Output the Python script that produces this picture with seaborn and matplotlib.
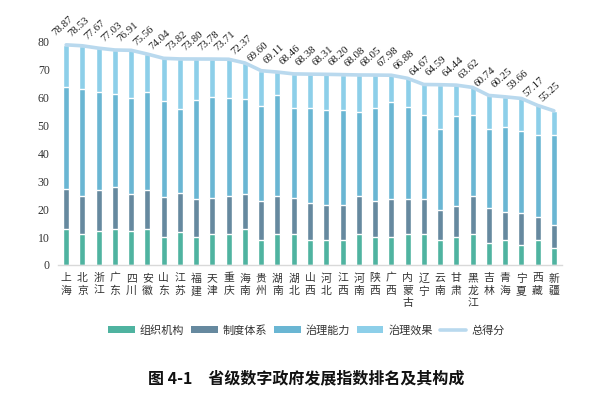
import numpy as np
import pandas as pd
import matplotlib
matplotlib.use("Agg")
import matplotlib.pyplot as plt
import seaborn as sns
from matplotlib.patches import Patch
from matplotlib.lines import Line2D

provinces = ["上海", "北京", "浙江", "广东", "四川", "安徽", "山东", "江苏", "福建", "天津",
             "重庆", "海南", "贵州", "湖南", "湖北", "山西", "河北", "江西", "河南", "陕西",
             "广西", "内蒙古", "辽宁", "云南", "甘肃", "黑龙江", "吉林", "青海", "宁夏", "西藏", "新疆"]

org = [12.9, 11.1, 12.1, 12.9, 12.1, 12.9, 10.1, 11.9, 10.1, 11.1,
       11.0, 12.9, 8.9, 11.0, 11.0, 8.9, 8.9, 8.9, 11.0, 10.1,
       10.1, 11.0, 11.0, 8.9, 10.1, 11.0, 8.0, 8.9, 7.0, 8.9, 6.2]
inst = [14.2, 13.5, 14.9, 15.1, 13.5, 13.9, 14.3, 13.8, 13.7, 12.9,
        13.6, 12.5, 14.0, 13.6, 13.0, 13.4, 12.5, 12.5, 13.6, 12.9,
        13.6, 12.6, 12.6, 10.7, 11.1, 13.6, 12.5, 10.1, 11.8, 8.4, 8.1]
capa = [36.6, 38.5, 35.1, 33.4, 34.1, 35.0, 34.4, 30.2, 35.3, 36.3,
        35.1, 34.1, 34.2, 36.2, 32.3, 34.0, 34.2, 34.2, 30.3, 33.3,
        34.6, 33.0, 30.0, 29.1, 32.1, 29.3, 28.2, 30.3, 29.3, 29.1, 32.1]
totals = [78.87, 78.53, 77.67, 77.03, 76.91, 75.56, 74.04, 73.82, 73.80, 73.78,
          73.71, 72.37, 69.60, 69.11, 68.46, 68.38, 68.31, 68.20, 68.08, 68.05,
          67.98, 66.88, 64.67, 64.59, 64.44, 63.62, 60.74, 60.25, 59.66, 57.17, 55.25]

series_names = ["组织机构", "制度体系", "治理能力", "治理效果", "总得分"]
colors = ["#4fb3a0", "#66899f", "#6ab6d3", "#8dcfe9"]
line_color = "#b9d9ee"
title = "图 4-1　省级数字政府发展指数排名及其构成"

sns.set_style("white")
plt.rcParams["font.family"] = ["Noto Sans CJK SC", "DejaVu Sans"]

df = pd.DataFrame({"province": provinces, "org": org, "inst": inst, "capa": capa, "total": totals})
df["c1"] = df["org"]
df["c2"] = df["c1"] + df["inst"]
df["c3"] = df["c2"] + df["capa"]
df["c4"] = df["total"]

fig = plt.figure(figsize=(5.95, 3.97), dpi=100)
ax = fig.add_axes([0.0975, 0.3325, 0.847, 0.5625])

for col, c in zip(["c4", "c3", "c2", "c1"], colors[::-1]):
    sns.barplot(data=df, x="province", y=col, color=c, width=0.37, saturation=1,
                order=provinces, ax=ax, zorder=2)

x = np.arange(len(provinces))
ax.plot(x, df["total"], color=line_color, lw=2.6, zorder=4, solid_capstyle="round")

for i, t in enumerate(totals):
    ax.annotate(f"{t:.2f}", (i, t), xytext=(-7, 5), textcoords="offset points",
                rotation=42, rotation_mode="anchor", ha="left", va="bottom",
                fontsize=7.8, family="Liberation Serif", color="#1a1a1a")

ax.set_xlim(-0.5, 30.5)
ax.set_ylim(0, 80)
ax.set_yticks(range(0, 81, 10))
ax.set_yticklabels([str(v) for v in range(0, 81, 10)], family="Liberation Serif", fontsize=8.5, color="#333333")
ax.set_xticks(x)
ax.set_xticklabels(["\n".join(p) for p in provinces], fontsize=7.8, linespacing=1.3, color="#333333")
ax.tick_params(axis="both", length=0)
ax.tick_params(axis="x", pad=6)
ax.tick_params(axis="y", pad=6)
ax.set_xlabel("")
ax.set_ylabel("")
for s in ["top", "right", "left"]:
    ax.spines[s].set_visible(False)
ax.spines["bottom"].set_color("#d9d9d9")
ax.spines["bottom"].set_linewidth(1.0)

handles = [Patch(facecolor=c, edgecolor="none") for c in colors]
handles.append(Line2D([0], [0], color=line_color, lw=2.6))
fig.legend(handles, series_names, loc="center", bbox_to_anchor=(0.515, 0.168), ncol=5,
           frameon=False, fontsize=8, handlelength=2.4, handleheight=0.6,
           handletextpad=0.45, columnspacing=0.6, labelcolor="#333333")

fig.text(0.515, 0.048, title, ha="center", va="center", fontsize=11.5, fontweight="bold",
         color="#111111")

fig.savefig("out.png", dpi=100)
